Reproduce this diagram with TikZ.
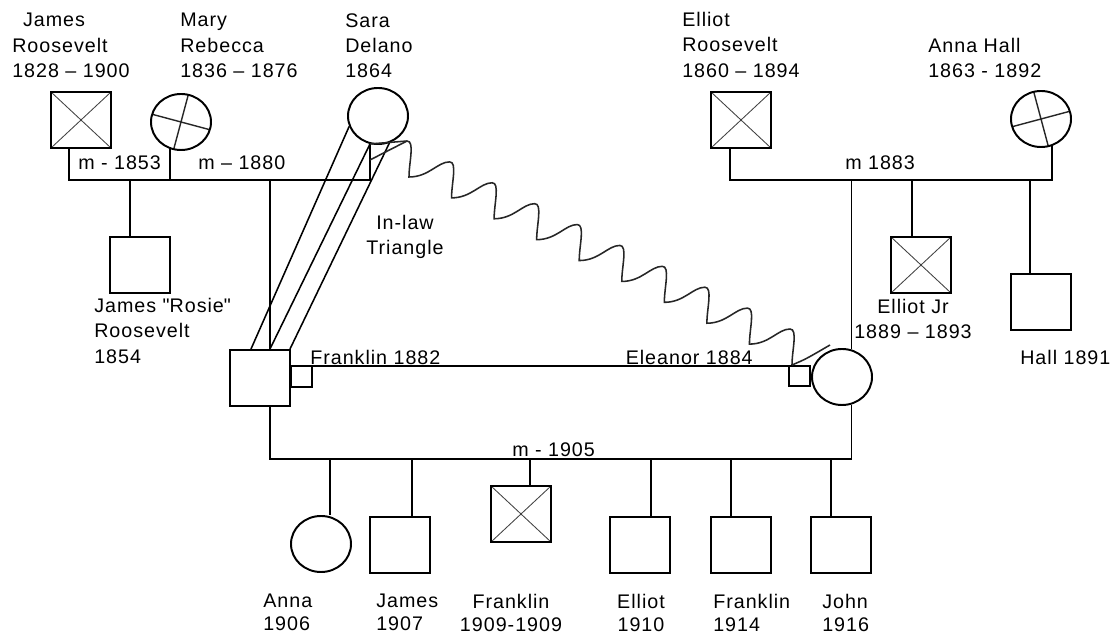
\documentclass[tikz,border=0pt]{standalone}
\usepackage{fontspec}
\setmainfont{Liberation Sans}[LetterSpace=5]
\usetikzlibrary{positioning,calc,shapes.geometric}

\tikzset{
  person/.style = {draw, line width=1.4pt, minimum width=1.5cm, minimum height=1.4cm, inner sep=0pt},
  male/.style = {person, rectangle},
  female/.style = {person, ellipse},
  deadmale/.style = {male, path picture={
      \draw[line width=0.6pt, black!75] (path picture bounding box.north west) -- (path picture bounding box.south east)
        (path picture bounding box.north east) -- (path picture bounding box.south west);}},
  deadfemale/.style = {female, path picture={
      \draw[line width=1pt, black!85]
        ([shift={(#1:1cm)}]path picture bounding box.center) -- ([shift={(#1+180:1cm)}]path picture bounding box.center)
        ([shift={(#1+90:1cm)}]path picture bounding box.center) -- ([shift={(#1+270:1cm)}]path picture bounding box.center);}},
  link/.style = {line width=1.4pt},
  wave/.style = {line width=1.1pt, black!85},
  lbl/.style = {font=\fontsize{14}{18}\selectfont, inner sep=0pt, align=left, anchor=north west},
  kidlbl/.style = {lbl, font=\fontsize{14}{16}\selectfont},
}

\begin{document}
\begin{tikzpicture}[x=0.025cm, y=-0.025cm]
    \fill[white] (0,0) rectangle (1114,635);
    \useasboundingbox (0,0) rectangle (1114,635);

    % grandparents
    \node[deadmale] (jamesR) at (81,120) {};
    \node[deadfemale=-15] (mary) at (181,122) {};
    \node[female] (sara) at (378,116) {};
    \node[deadmale] (elliotR) at (741,120) {};
    \node[deadfemale=15] (annaH) at (1041,119) {};

    % middle generation
    \node[male] (rosie) at (140,265) {};
    \node[male] (franklin) at (260,378) {};
    \node[female] (eleanor) at (842,377) {};
    \node[deadmale] (elliotJr) at (921,265) {};
    \node[male] (hall) at (1041,302) {};

    % children
    \node[female] (anna) at (321,544) {};
    \node[male] (jamesK) at (400,545) {};
    \node[deadmale] (franklinK) at (521,514) {};
    \node[male] (elliotK) at (640,545) {};
    \node[male] (franklinJr) at (741,545) {};
    \node[male] (john) at (841,545) {};

    \coordinate (bar1) at (0,180);
    \coordinate (bar2) at (0,459);

    % Roosevelt side
    \coordinate (jr) at ($(jamesR.south)+(-12,0)$);
    \draw[link] (jr) -- (jr |- bar1) -- (sara.254 |- bar1) -- (sara.254);
    \draw[link] (mary.247) -- (mary.247 |- bar1);
    \coordinate (rt) at ($(rosie.north)+(-10,0)$);
    \draw[link] (rt) -- (rt |- bar1);
    \coordinate (ft) at ($(franklin.north)+(10,0)$);
    \draw[link] (ft) -- (ft |- bar1);

    % Hall side
    \coordinate (er) at ($(elliotR.south)+(-11,0)$);
    \draw[link] (er) -- (er |- bar1) -- (annaH.293 |- bar1) -- (annaH.293);
    \draw[link] (eleanor.71) -- (eleanor.71 |- bar1);
    \coordinate (ejt) at ($(elliotJr.north)+(-9,0)$);
    \draw[link] (ejt) -- (ejt |- bar1);
    \coordinate (ht) at ($(hall.north)+(-11,0)$);
    \draw[link] (ht) -- (ht |- bar1);

    % Franklin and Eleanor
    \coordinate (fm) at ($(franklin.east)+(0,-12)$);
    \coordinate (em) at ($(eleanor.west)+(-22,-11)$);
    \draw[link] (fm) -- (em);
    \draw[link] (fm) rectangle ++(21,21);
    \draw[link] (em) rectangle ++(21,20);
    \coordinate (fb) at ($(franklin.south)+(10,0)$);
    \draw[link] (fb) -- (fb |- bar2) -- (eleanor.289 |- bar2) -- (eleanor.289);
    \foreach \k/\dx in {anna/9, jamesK/12, franklinK/9, elliotK/11, franklinJr/-10, john/-10} {
        \coordinate (kt) at ($(\k.north)+(\dx,0)$);
        \draw[link] (kt) -- (kt |- bar2);
    }

    % in-law triangle
    \draw[line width=1.1pt] ($(franklin.north west)+(22,0)$) -- (sara.200);
    \draw[line width=1.1pt] (ft) -- (sara.254);
    \draw[line width=1.1pt] ($(franklin.north east)+(-1,0)$) -- (sara.293);
    \coordinate (wa) at ($(sara.center)+(29,25)$);
    \coordinate (wz) at ($(eleanor.center)+(-52,-48)$);
    \draw[wave] (sara.254) -- (wa) .. controls +(8,0) and +(0,-15) .. ($(wa)+(2,36)$)
        \foreach \i in {1,...,9} {
          .. controls +(20,0) and +(-12,0) .. ($(wa)!\i/9!(wz)$)
          .. controls +(8,0) and +(0,-15) .. ($(wa)!\i/9!(wz)+(2,36)$)
        };
    \draw[wave] ($(sara.254)+(0,16)$) -- (wa);
    \draw[wave] ($(wz)+(2,36)$) .. controls +(14,-6) .. ($(eleanor.center)+(-12,-32)$);

    % labels
    \node[lbl] (tJR) at (12,13) {\hspace*{0.27cm}James\\Roosevelt\\1828 – 1900};
    \node[lbl] (tMary) at (180,13) {Mary\\Rebecca\\1836 – 1876};
    \node[lbl] (tSara) at (345,13) {Sara\\Delano\\1864};
    \node[lbl] (tER) at (682,12) {Elliot\\Roosevelt\\1860 – 1894};
    \node[lbl] (tAH) at (928,38) {Anna Hall\\1863 - 1892};
    \node[lbl] (m1) at (78,155) {m - 1853};
    \node[lbl] (m2) at (198,155) {m – 1880};
    \node[lbl] (m3) at (845,155) {m 1883};
    \node[lbl] (tRosie) at (94,298) {James \textquotedbl Rosie\textquotedbl\\Roosevelt\\1854};
    \node[lbl, anchor=north, align=center] (tInlaw) at (405,215) {In-law\\Triangle};
    \node[lbl] (tF) at (310,350) {Franklin 1882};
    \node[lbl, anchor=north east] (tE) at (753,350) {Eleanor 1884};
    \node[lbl, anchor=north, align=center] (tEJr) at (913,299) {Elliot Jr\\1889 – 1893};
    \node[lbl] (tHall) at (1020,350) {Hall 1891};
    \node[lbl] (m4) at (512,442) {m - 1905};
    \node[kidlbl] (tAnna) at (263,594) {Anna\\1906};
    \node[kidlbl] (tJamesK) at (376,594) {James\\1907};
    \node[kidlbl, anchor=north, align=center] (tFranklinK) at (511,594) {Franklin\\1909-1909};
    \node[kidlbl, anchor=north, align=center] (tElliotK) at (641,594) {Elliot\\1910};
    \node[kidlbl] (tFranklinJr) at (713,594) {Franklin\\1914};
    \node[kidlbl] (tJohn) at (822,594) {John\\1916};
\end{tikzpicture}
\end{document}
